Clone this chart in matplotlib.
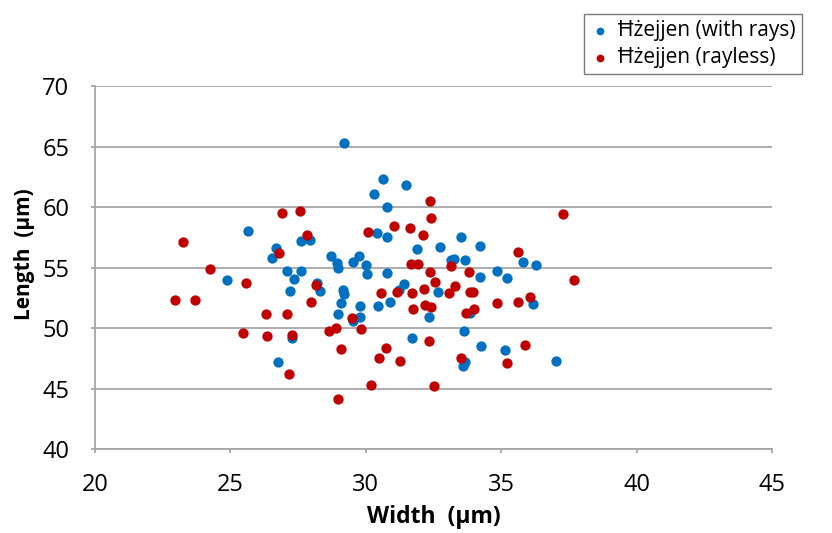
import matplotlib
matplotlib.use("Agg")
import matplotlib.pyplot as plt

plt.rcParams['font.family'] = ['Open Sans', 'DejaVu Sans']

rays_w = [29.20, 30.63, 31.48, 30.32, 30.78, 25.65, 27.59, 27.94, 26.67, 26.54,
          28.70, 28.95, 28.99, 29.53, 29.75, 27.09, 27.59, 27.36, 24.88, 27.21,
          28.19, 28.30, 29.17, 29.19, 29.07, 28.98, 29.54, 27.27, 26.76, 30.43,
          30.77, 33.52, 31.89, 32.73, 34.23, 30.01, 30.05, 30.78, 33.15, 33.27,
          33.65, 34.22, 32.68, 31.42, 31.21, 30.90, 30.46, 29.78, 29.79, 32.35,
          33.83, 33.64, 31.70, 33.58, 34.26, 35.81, 36.27, 34.84, 35.22, 36.19,
          35.13, 37.03, 33.65]
rays_l = [65.26, 62.29, 61.79, 61.07, 59.98, 58.02, 57.19, 57.27, 56.61, 55.81,
          55.95, 55.34, 54.99, 55.43, 55.95, 54.71, 54.71, 54.08, 53.99, 53.08,
          53.69, 53.03, 53.17, 52.83, 52.07, 51.13, 50.60, 49.20, 47.22, 57.85,
          57.49, 57.49, 56.50, 56.69, 56.78, 55.18, 54.46, 54.57, 55.62, 55.68,
          55.65, 54.24, 52.98, 53.61, 53.14, 52.15, 51.82, 51.82, 50.94, 50.89,
          51.21, 49.75, 49.20, 46.86, 48.51, 55.45, 55.18, 54.71, 54.16, 51.96,
          48.18, 47.25, 47.20]

rayless_w = [26.89, 27.58, 23.25, 27.81, 26.80, 24.26, 25.56, 28.17, 27.96, 22.96,
             23.70, 26.31, 27.10, 29.48, 25.47, 26.36, 27.27, 28.64, 28.91, 29.84,
             29.07, 27.15, 28.99, 32.36, 32.42, 31.05, 30.09, 31.65, 32.11, 31.67,
             31.91, 33.15, 32.36, 33.80, 32.57, 33.31, 32.16, 33.09, 33.83, 33.95,
             31.14, 31.71, 30.57, 31.76, 32.19, 32.41, 33.70, 34.01, 32.33, 30.74,
             30.49, 31.27, 33.52, 30.20, 32.53, 37.30, 35.63, 37.69, 34.83, 35.62,
             36.06, 35.89, 35.22]
rayless_l = [59.53, 59.64, 57.13, 57.66, 56.17, 54.90, 53.72, 53.55, 52.15, 52.29,
             52.34, 51.16, 51.16, 50.80, 49.59, 49.37, 49.45, 49.77, 50.03, 49.89,
             48.29, 46.17, 44.11, 60.50, 59.12, 58.46, 57.93, 58.26, 57.66, 55.26,
             55.26, 55.12, 54.65, 54.63, 53.83, 53.50, 53.25, 52.92, 53.00, 53.00,
             52.95, 52.92, 52.89, 51.57, 51.90, 51.76, 51.21, 51.60, 48.93, 48.38,
             47.52, 47.30, 47.50, 45.29, 45.18, 59.42, 56.31, 53.97, 52.09, 52.12,
             52.54, 48.59, 47.11]

series_names = ["Ħżejjen (with rays)", "Ħżejjen (rayless)"]
x_ticks = [20, 25, 30, 35, 40, 45]
y_ticks = [40, 45, 50, 55, 60, 65, 70]

fig = plt.figure(figsize=(8.32, 5.33), dpi=100)
ax = fig.add_axes([0.1142, 0.1576, 0.8137, 0.681])

ax.scatter(rays_w, rays_l, s=55, color='#0070C0', label=series_names[0], zorder=3, linewidths=0)
ax.scatter(rayless_w, rayless_l, s=55, color='#C00000', label=series_names[1], zorder=4, linewidths=0)

ax.set_xlim(20, 45)
ax.set_ylim(40, 70)
ax.set_xticks(x_ticks)
ax.set_yticks(y_ticks)
ax.yaxis.grid(True, color='#A6A6A6', linewidth=1.3)
ax.set_axisbelow(True)
for s in ['top', 'right']:
    ax.spines[s].set_visible(False)
for s in ['left', 'bottom']:
    ax.spines[s].set_color('#A6A6A6')
    ax.spines[s].set_linewidth(1.3)
ax.tick_params(axis='both', colors='#A6A6A6', length=3, width=1.3, labelsize=17,
               labelcolor='black')
ax.tick_params(axis='x', pad=14.5)
ax.tick_params(axis='y', pad=15.5)

ax.set_xlabel("Width  (µm)", fontsize=16.5, fontweight='bold')
ax.set_ylabel("Length  (µm)", fontsize=15, fontweight='bold')
ax.xaxis.set_label_coords(0.5, -0.155)
ax.yaxis.set_label_coords(-0.0886, 0.536)

leg = fig.legend(loc='upper right', bbox_to_anchor=(0.964, 0.9737), fontsize=15,
                 frameon=True, fancybox=False, edgecolor='#595959', handletextpad=0.35,
                 borderpad=0.3, labelspacing=0.28, handlelength=1.0, markerscale=0.75,
                 borderaxespad=0)
leg.get_frame().set_linewidth(1.0)

fig.savefig("out.png", dpi=100)
